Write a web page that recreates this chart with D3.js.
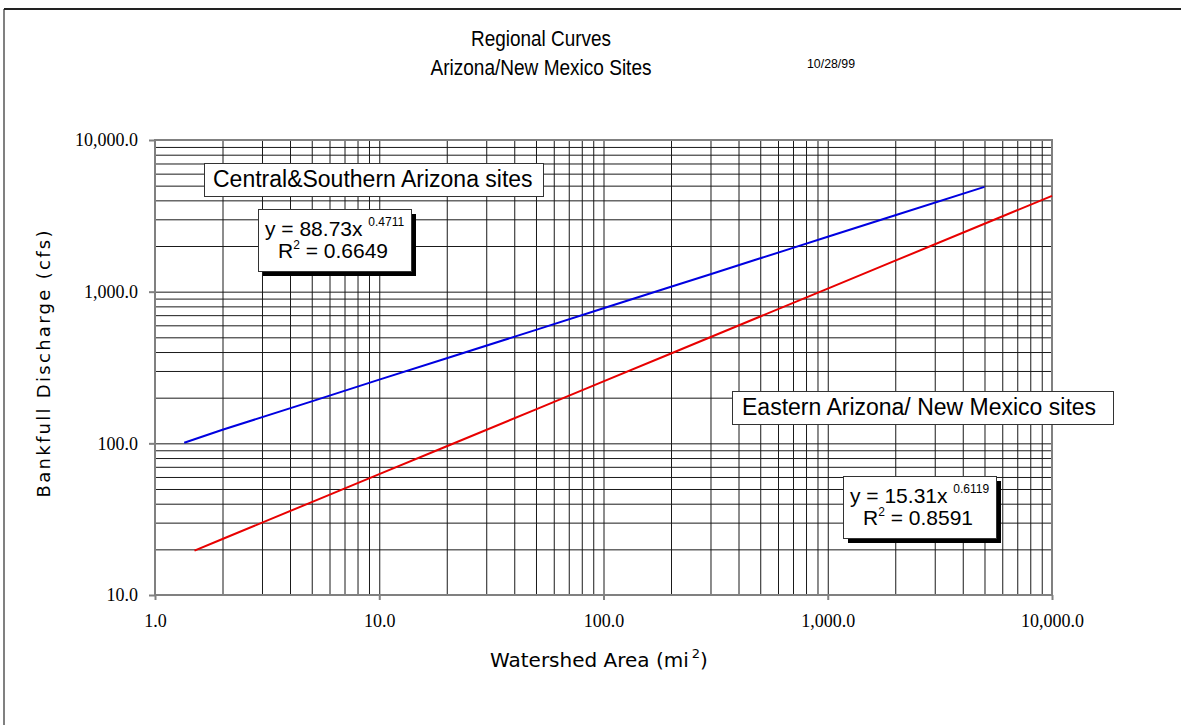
<!DOCTYPE html>
<html>
<head>
<meta charset="utf-8">
<script src="https://cdn.jsdelivr.net/npm/d3@7"></script>
<style>
  html, body { margin: 0; padding: 0; background: #fff; }
  svg { display: block; }
</style>
</head>
<body>
<svg id="chart" width="1181" height="725"></svg>
<script>
// ---- data ----
const xTickValues = [1, 10, 100, 1000, 10000];
const xTickLabels = ["1.0", "10.0", "100.0", "1,000.0", "10,000.0"];
const yTickValues = [10, 100, 1000, 10000];
const yTickLabels = ["10.0", "100.0", "1,000.0", "10,000.0"];

// Central & Southern Arizona sites (fitted line)
const centralArea = [1.35, 2, 5, 10, 20, 50, 100, 200, 300, 500, 700, 1000, 2000, 5000];
const centralQ    = [101, 123, 189, 263, 364, 560, 777, 1077, 1303, 1659, 1943, 2301, 3189, 4910];

// Eastern Arizona / New Mexico sites
const easternArea = [1.5, 2, 5, 10, 20, 50, 100, 200, 500, 1000, 2000, 5000, 10000];
const easternQ    = [19.6, 23.4, 41.0, 62.6, 95.7, 167.6, 256, 391, 686, 1048, 1601, 2803, 4285];

const titleLines = ["Regional Curves", "Arizona/New Mexico Sites"];
const dateText = "10/28/99";
const labelCentral = "Central&Southern Arizona sites";
const labelEastern = "Eastern Arizona/ New Mexico sites";
const eqCentral = { main: "y = 88.73x ", exp: "0.4711", r2: "0.6649" };
const eqEastern = { main: "y = 15.31x ", exp: "0.6119", r2: "0.8591" };

// ---- layout ----
const svg = d3.select("#chart");
const L = 155, R = 1052, T = 140, B = 595;
const x = d3.scaleLog().domain([1, 10000]).range([L, R]);
const y = d3.scaleLog().domain([10, 10000]).range([B, T]);

// outer frame (only left and top edges visible)
svg.append("line").attr("x1", 4).attr("y1", 9).attr("x2", 4).attr("y2", 725)
  .attr("stroke", "#808080").attr("stroke-width", 2);
svg.append("line").attr("x1", 4).attr("y1", 9).attr("x2", 1181).attr("y2", 9)
  .attr("stroke", "#222").attr("stroke-width", 2);

// gridlines
const minorX = [];
for (let d = 1; d < 10000; d *= 10) for (let k = 2; k <= 9; k++) minorX.push(d * k);
const minorY = [];
for (let d = 10; d < 10000; d *= 10) for (let k = 2; k <= 9; k++) minorY.push(d * k);

const grid = svg.append("g");
grid.append("g").attr("transform", `translate(0,${B})`)
  .call(d3.axisBottom(x).tickValues(minorX.concat(xTickValues)).tickSize(-(B - T)).tickFormat(""))
  .call(g => g.select(".domain").remove())
  .call(g => g.selectAll("line").attr("stroke", "#1a1a1a").attr("stroke-width", 1));
grid.append("g").attr("transform", `translate(${L},0)`)
  .call(d3.axisLeft(y).tickValues(minorY.concat(yTickValues)).tickSize(-(R - L)).tickFormat(""))
  .call(g => g.select(".domain").remove())
  .call(g => g.selectAll("line").attr("stroke", "#1a1a1a").attr("stroke-width", 1));

// plot border
svg.append("rect").attr("x", L).attr("y", T).attr("width", R - L).attr("height", B - T)
  .attr("fill", "none").attr("stroke", "#808080").attr("stroke-width", 2);

// axes with labels
const xAxis = svg.append("g").attr("transform", `translate(0,${B})`)
  .call(d3.axisBottom(x).tickValues(xTickValues).tickSize(5).tickPadding(14)
    .tickFormat((d, i) => xTickLabels[i]));
xAxis.select(".domain").remove();
xAxis.selectAll("line").attr("stroke", "#808080").attr("stroke-width", 2);
xAxis.selectAll("text").attr("font-family", "Liberation Serif, Times New Roman, serif")
  .attr("font-size", 18).attr("fill", "#000");

const yAxis = svg.append("g").attr("transform", `translate(${L},0)`)
  .call(d3.axisLeft(y).tickValues(yTickValues).tickSize(6).tickPadding(11)
    .tickFormat((d, i) => yTickLabels[i]));
yAxis.select(".domain").remove();
yAxis.selectAll("line").attr("stroke", "#808080").attr("stroke-width", 2);
yAxis.selectAll("text").attr("font-family", "Liberation Serif, Times New Roman, serif")
  .attr("font-size", 18).attr("fill", "#000");

// curves
const line = d3.line().x(d => x(d[0])).y(d => y(d[1]));
svg.append("path").datum(d3.zip(centralArea, centralQ)).attr("d", line)
  .attr("fill", "none").attr("stroke", "#0000e0").attr("stroke-width", 2);
svg.append("path").datum(d3.zip(easternArea, easternQ)).attr("d", line)
  .attr("fill", "none").attr("stroke", "#e80000").attr("stroke-width", 2);

// title
const sans = "Liberation Sans, Arial, sans-serif";
svg.append("text").attr("x", 541).attr("y", 46).attr("text-anchor", "middle")
  .attr("font-family", sans).attr("font-size", 22)
  .attr("textLength", 140).attr("lengthAdjust", "spacingAndGlyphs").text(titleLines[0]);
svg.append("text").attr("x", 541).attr("y", 75).attr("text-anchor", "middle")
  .attr("font-family", sans).attr("font-size", 22)
  .attr("textLength", 221).attr("lengthAdjust", "spacingAndGlyphs").text(titleLines[1]);
svg.append("text").attr("x", 807).attr("y", 68)
  .attr("font-family", sans).attr("font-size", 13)
  .attr("textLength", 48).attr("lengthAdjust", "spacingAndGlyphs").text(dateText);

// axis titles
const axisFont = "DejaVu Sans, Verdana, sans-serif";
svg.append("text").attr("transform", "translate(50,364) rotate(-90)")
  .attr("text-anchor", "middle").attr("font-family", axisFont).attr("font-size", 18)
  .attr("textLength", 267).attr("lengthAdjust", "spacing").text("Bankfull Discharge (cfs)");
const xt = svg.append("text").attr("x", 490).attr("y", 667)
  .attr("font-family", axisFont).attr("font-size", 20);
xt.append("tspan").text("Watershed Area (mi");
xt.append("tspan").attr("font-size", 13).attr("dy", -9).attr("dx", 3).text("2");
xt.append("tspan").attr("dy", 9).text(")");

// label boxes
function labelBox(x0, y0, w, h, txt, tx, ty) {
  svg.append("rect").attr("x", x0).attr("y", y0).attr("width", w).attr("height", h)
    .attr("fill", "#fff").attr("stroke", "#333").attr("stroke-width", 1);
  svg.append("text").attr("x", tx).attr("y", ty).attr("font-family", sans)
    .attr("font-size", 23).text(txt);
}
labelBox(204.5, 163.5, 339, 33, labelCentral, 213, 187);
labelBox(732.5, 391.5, 381, 33, labelEastern, 742, 415);

function eqBox(x0, y0, eq) {
  const w = 153, h = 62;
  svg.append("rect").attr("x", x0 + 5).attr("y", y0 + 5).attr("width", w).attr("height", h).attr("fill", "#000");
  svg.append("rect").attr("x", x0 + 0.5).attr("y", y0 + 0.5).attr("width", w).attr("height", h)
    .attr("fill", "#fff").attr("stroke", "#333").attr("stroke-width", 1);
  const t1 = svg.append("text").attr("x", x0 + 7).attr("y", y0 + 27)
    .attr("font-family", sans).attr("font-size", 21);
  t1.append("tspan").text(eq.main);
  t1.append("tspan").attr("font-size", 12).attr("dy", -10).text(eq.exp);
  const t2 = svg.append("text").attr("x", x0 + 20).attr("y", y0 + 49)
    .attr("font-family", sans).attr("font-size", 21);
  t2.append("tspan").text("R");
  t2.append("tspan").attr("font-size", 12).attr("dy", -9).text("2");
  t2.append("tspan").attr("dy", 9).text(" = " + eq.r2);
}
eqBox(258, 209, eqCentral);
eqBox(843, 476, eqEastern);
</script>
</body>
</html>
